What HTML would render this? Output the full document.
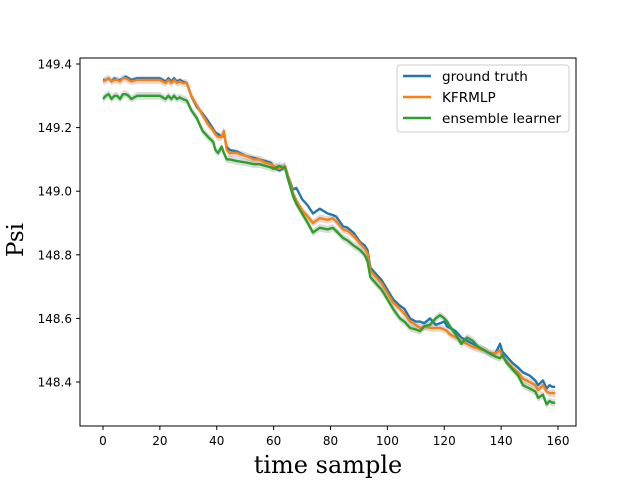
<!DOCTYPE html>
<html><head><meta charset="utf-8"><style>
body{margin:0;background:#fff}
svg text{font-family:"DejaVu Sans","Liberation Sans",sans-serif}
</style></head><body>
<svg id="chart" width="642" height="481" viewBox="0 0 642 481" xmlns="http://www.w3.org/2000/svg">
<rect x="0" y="0" width="642" height="481" fill="#fff"/>
<g id="bands"></g><g id="lines"></g><g id="axes"></g>
<text x="328" y="473" text-anchor="middle" font-size="24" style="font-family:'DejaVu Serif','Liberation Serif',serif">time sample</text>
<text transform="translate(23,240) rotate(-90)" text-anchor="middle" font-size="23" style="font-family:'DejaVu Serif','Liberation Serif',serif">Psi</text>
<g>
<rect x="397" y="65" width="172" height="67" rx="3" fill="#fff" stroke="#ccc" stroke-width="1"/>
<g><line x1="403" y1="76" x2="431" y2="76" stroke="#1f77b4" stroke-width="2.4"/><text x="442" y="81" font-size="13.6">ground truth</text></g>
<g><line x1="403" y1="97" x2="431" y2="97" stroke="#ff7f0e" stroke-width="2.4"/><text x="442" y="102" font-size="13.6">KFRMLP</text></g>
<g><line x1="403" y1="118" x2="431" y2="118" stroke="#2ca02c" stroke-width="2.4"/><text x="442" y="123" font-size="13.6">ensemble learner</text></g>
</g>
</svg>
<script>
const samples=[0,1,2,3,4,5,6,7,8,9,10,12,14,16,18,20,21,22,23,24,25,26,27,28,29.5,31,33,35,37,38.8,39.5,40.5,41.7,42.5,43.5,44.6,47,50.5,53,55,57,59,60,61,62,63,64,65,66.8,68,70,72,73.8,76.2,79,80.8,82,84.4,86,88,90.4,92,93,94,96,98,100,102,104.4,106,108,110,111.5,113,115,117,118.5,120,121,122,124,126,128,130,132,134,136,138,139.6,140.5,142,144,146,147.7,150,152,153,154.7,156,157,158,159];
const groundTruth=[149.35,149.35,149.355,149.345,149.355,149.35,149.35,149.355,149.36,149.355,149.35,149.355,149.355,149.355,149.355,149.355,149.35,149.345,149.355,149.345,149.355,149.345,149.35,149.345,149.34,149.3,149.265,149.245,149.22,149.195,149.185,149.18,149.17,149.18,149.14,149.13,149.125,149.11,149.105,149.1,149.095,149.09,149.075,149.07,149.065,149.07,149.08,149.05,149.005,149.01,148.975,148.955,148.93,148.945,148.93,148.925,148.92,148.89,148.885,148.87,148.84,148.83,148.815,148.76,148.74,148.72,148.69,148.66,148.64,148.63,148.6,148.59,148.59,148.585,148.6,148.58,148.585,148.59,148.575,148.57,148.56,148.54,148.53,148.52,148.51,148.5,148.49,148.49,148.52,148.495,148.48,148.46,148.445,148.43,148.42,148.405,148.39,148.405,148.38,148.39,148.385,148.385];
const kfrmlp=[149.345,149.35,149.355,149.345,149.35,149.35,149.345,149.355,149.355,149.35,149.345,149.35,149.35,149.35,149.35,149.35,149.345,149.34,149.35,149.34,149.35,149.34,149.345,149.34,149.34,149.3,149.27,149.24,149.21,149.19,149.18,149.17,149.17,149.19,149.13,149.12,149.12,149.11,149.1,149.1,149.09,149.085,149.08,149.075,149.07,149.075,149.08,149.05,148.995,148.97,148.94,148.92,148.9,148.915,148.91,148.915,148.905,148.88,148.875,148.86,148.835,148.82,148.805,148.75,148.73,148.71,148.68,148.65,148.63,148.615,148.59,148.58,148.57,148.575,148.57,148.57,148.57,148.565,148.56,148.55,148.54,148.53,148.52,148.51,148.505,148.5,148.49,148.49,148.5,148.48,148.465,148.445,148.43,148.41,148.4,148.39,148.375,148.39,148.37,148.365,148.365,148.365];
const ensemble=[149.29,149.3,149.305,149.29,149.3,149.3,149.29,149.305,149.305,149.3,149.29,149.3,149.3,149.3,149.3,149.3,149.295,149.29,149.3,149.29,149.3,149.29,149.295,149.29,149.285,149.255,149.23,149.19,149.17,149.155,149.13,149.12,149.14,149.12,149.1,149.1,149.095,149.09,149.085,149.085,149.08,149.075,149.07,149.075,149.08,149.075,149.075,149.04,148.985,148.96,148.93,148.9,148.87,148.885,148.88,148.885,148.875,148.853,148.845,148.83,148.815,148.8,148.78,148.73,148.71,148.69,148.66,148.63,148.6,148.59,148.57,148.565,148.56,148.575,148.58,148.6,148.61,148.6,148.59,148.575,148.55,148.52,148.54,148.53,148.51,148.5,148.49,148.48,148.475,148.485,148.46,148.44,148.42,148.39,148.38,148.37,148.35,148.36,148.33,148.34,148.335,148.335];
const xTicks=[0,20,40,60,80,100,120,140,160];
const yTicks=[148.4,148.6,148.8,149.0,149.2,149.4];

const NS="http://www.w3.org/2000/svg";
const X=s=>103+s*(455/160);
const Y=v=>382-(v-148.4)*318;
function mk(tag,attrs,parent){const e=document.createElementNS(NS,tag);for(const k in attrs)e.setAttribute(k,attrs[k]);parent.appendChild(e);return e;}
const bands=document.getElementById('bands'),lines=document.getElementById('lines'),axes=document.getElementById('axes');
function band(vals,w,name){
  let up=samples.map((s,i)=>X(s).toFixed(1)+','+Y(vals[i]+w).toFixed(1));
  let dn=samples.map((s,i)=>X(s).toFixed(1)+','+Y(vals[i]-w).toFixed(1)).reverse();
  const p=mk('polygon',{points:up.concat(dn).join(' '),fill:'#999','fill-opacity':'0.35'},bands);
  
  
}
band(kfrmlp,0.012,'kfrmlp-confidence-band');
band(ensemble,0.012,'ensemble-confidence-band');
function line(vals,color,name){
  const p=mk('polyline',{points:samples.map((s,i)=>X(s).toFixed(1)+','+Y(vals[i]).toFixed(1)).join(' '),fill:'none',stroke:color,'stroke-width':'2.4','stroke-linejoin':'round'},lines);
  
  
}
line(groundTruth,'#1f77b4','ground-truth-line');
line(kfrmlp,'#ff7f0e','kfrmlp-line');
line(ensemble,'#2ca02c','ensemble-line');
const frame=mk('rect',{x:80,y:58,width:496,height:368,fill:'none',stroke:'#000','stroke-width':'1'},axes);


xTicks.forEach(t=>{
  mk('line',{x1:X(t),y1:426,x2:X(t),y2:430,stroke:'#000'},axes);
  const tx=mk('text',{x:X(t),y:445,'text-anchor':'middle','font-size':'12'},axes);
  tx.textContent=t;
  
  
});
yTicks.forEach(t=>{
  mk('line',{x1:76,y1:Y(t),x2:80,y2:Y(t),stroke:'#000'},axes);
  const tx=mk('text',{x:72,y:Y(t)+4.5,'text-anchor':'end','font-size':'12'},axes);
  tx.textContent=t.toFixed(1);
  
  
});
</script>
</body></html>
